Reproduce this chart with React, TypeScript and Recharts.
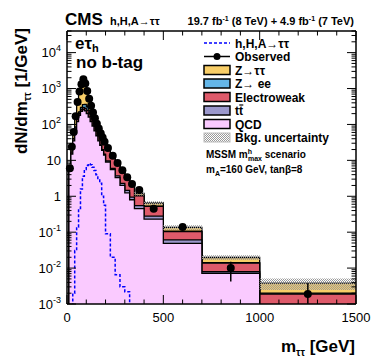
import { Area, ComposedChart, ErrorBar, Line, Scatter, XAxis, YAxis } from "recharts";

const FONT = "'Liberation Sans', Arial, Helvetica, sans-serif";

// variable binning of the m_tautau histogram (GeV)
const binEdges = [
  10, 20, 30, 40, 50, 60, 70, 80, 90, 100, 110, 120, 130, 140, 150, 160, 170, 180, 190, 200,
  225, 250, 275, 300, 325, 350, 400, 500, 700, 1000, 1500,
];

// backgrounds, dN/dm per bin
const qcd = [5, 15, 35, 70, 120, 180, 230, 260, 240, 200, 160, 120, 90, 66, 48, 35, 26, 19, 14, 9, 5.5, 3.3, 2.0, 1.25, 0.8, 0.45, 0.23, 0.049, 0.0071, 0.0002];
const ttbar = [0, 0, 0, 0.1, 0.2, 0.3, 0.4, 0.5, 0.6, 0.7, 0.8, 0.9, 1, 1, 1, 1, 1, 0.9, 0.8, 0.7, 0.5, 0.4, 0.3, 0.2, 0.15, 0.1, 0.05, 0.012, 0.0008, 0.0002];
const ewk = [0.5, 2, 5, 10, 18, 25, 32, 38, 42, 45, 45, 44, 41, 37, 32, 27, 22, 18, 14, 10, 6.2, 3.9, 2.5, 1.6, 1.05, 0.48, 0.24, 0.042, 0.0058, 0.0015];
const zee = [0, 0, 0.5, 5, 10, 20, 35, 60, 80, 70, 40, 20, 10, 5, 3, 2, 1.5, 1, 0.8, 0.5, 0.3, 0.2, 0.1, 0.06, 0.04, 0.02, 0.01, 0.003, 0.0005, 0.0001];
const ztt = [1.5, 6, 20, 80, 260, 600, 1000, 1350, 1050, 560, 280, 140, 70, 35, 18, 10, 6, 3.5, 2.2, 1.3, 0.8, 0.5, 0.3, 0.2, 0.14, 0.15, 0.12, 0.03, 0.0055, 0.0018];
const bkgRelErr = [0.2, 0.15, 0.12, 0.1, 0.08, 0.08, 0.08, 0.08, 0.08, 0.08, 0.08, 0.08, 0.08, 0.08, 0.08, 0.09, 0.09, 0.09, 0.1, 0.1, 0.1, 0.1, 0.11, 0.11, 0.12, 0.12, 0.12, 0.15, 0.15, 0.35];

// signal h,H,A -> tautau (mA=160, tanb=8)
const signal = [0.0001, 0.0006, 0.002, 0.031, 0.14, 0.46, 1.6, 3.6, 5.6, 7.2, 8.0, 7.6, 6.4, 5.2, 4.0, 3.0, 2.3, 1.0, 0.56, 0.09, 0.02, 0.0065, 0.003, 0.0022, 0.0008, 0.0003, 0.0001, 0.00005, 0.00001, 0.00001];

// data
const observed = [6, 24, 62, 170, 420, 830, 1320, 1800, 1380, 860, 520, 330, 215, 148, 104, 77, 57, 43, 33, 22, 13.5, 8.5, 5.3, 3.4, 2.2, 1.5, 0.45, 0.14, 0.01, 0.0019];
const obsErrLow = [0.77, 1.55, 2.5, 4.1, 6.5, 9.1, 11.5, 13.4, 11.7, 9.3, 7.2, 5.7, 4.6, 3.8, 3.2, 2.8, 2.4, 2.1, 1.8, 0.94, 0.73, 0.58, 0.46, 0.37, 0.3, 0.17, 0.067, 0.026, 0.0058, 0.00089];
const obsErrHigh = [0.77, 1.55, 2.5, 4.1, 6.5, 9.1, 11.5, 13.4, 11.7, 9.3, 7.2, 5.7, 4.6, 3.8, 3.2, 2.8, 2.4, 2.1, 1.8, 0.94, 0.73, 0.58, 0.46, 0.37, 0.3, 0.17, 0.067, 0.026, 0.005, 0.0019];

const xTicks = [0, 100, 200, 300, 400, 500, 600, 700, 800, 900, 1000, 1100, 1200, 1300, 1400, 1500];
const yMajor = [0.001, 0.01, 0.1, 1, 10, 100, 1000, 10000];
const yLabels: [string, string][] = [["10", "-3"], ["10", "-2"], ["10", "-1"], ["1", ""], ["10", ""], ["10", "2"], ["10", "3"], ["10", "4"]];
const yTicks = yMajor.flatMap((d) => [1, 2, 3, 4, 5, 6, 7, 8, 9].map((k) => k * d)).filter((v) => v <= 40000);

const TINY = 1e-7;

const rows = [
  { m: binEdges[0], qcdTop: TINY, ttTop: TINY, ewkTop: TINY, zeeTop: TINY, total: TINY, band: [TINY, TINY], sig: TINY },
  ...binEdges.map((edge, i) => {
    const k = Math.min(i, qcd.length - 1);
    const s1 = qcd[k];
    const s2 = s1 + ttbar[k];
    const s3 = s2 + ewk[k];
    const s4 = s3 + zee[k];
    const s5 = s4 + ztt[k];
    return {
      m: edge,
      qcdTop: s1,
      ttTop: s2,
      ewkTop: s3,
      zeeTop: s4,
      total: s5,
      band: [s5 * (1 - bkgRelErr[k]), s5 * (1 + bkgRelErr[k])],
      sig: signal[k],
    };
  }),
];

const points = observed.map((v, i) => ({
  m: (binEdges[i] + binEdges[i + 1]) / 2,
  obs: v,
  err: [obsErrLow[i], obsErrHigh[i]],
}));

function LeftTick(props: any) {
  const { x, y, payload } = props;
  const idx = yMajor.indexOf(payload.value);
  const major = idx >= 0;
  return (
    <g>
      <line x1={x} x2={x + (major ? 9 : 4.5)} y1={y} y2={y} stroke="#000" strokeWidth={1} />
      {major && (
        <text x={x - 6} y={y + 4.5} textAnchor="end" fontSize={13} fontFamily={FONT} fill="#000">
          <tspan>{yLabels[idx][0]}</tspan>
          {yLabels[idx][1] && (
            <tspan dy={-6} fontSize={9}>
              {yLabels[idx][1]}
            </tspan>
          )}
        </text>
      )}
    </g>
  );
}

function RightTick(props: any) {
  const { x, y, payload } = props;
  const major = yMajor.indexOf(payload.value) >= 0;
  return <line x1={x} x2={x - (major ? 9 : 4.5)} y1={y} y2={y} stroke="#000" strokeWidth={1} />;
}

function BottomTick(props: any) {
  const { x, y, payload } = props;
  const major = payload.value % 500 === 0;
  return (
    <g>
      <line x1={x} x2={x} y1={y} y2={y - (major ? 9 : 4.5)} stroke="#000" strokeWidth={1} />
      {major && (
        <text x={x} y={y + 18} textAnchor="middle" fontSize={13} fontFamily={FONT} fill="#000">
          {payload.value}
        </text>
      )}
    </g>
  );
}

function TopTick(props: any) {
  const { x, y, payload } = props;
  const major = payload.value % 500 === 0;
  return <line x1={x} x2={x} y1={y} y2={y + (major ? 9 : 4.5)} stroke="#000" strokeWidth={1} />;
}

const legendRows = [
  { label: "h,H,A→ττ", kind: "dash", color: "#0000ff" },
  { label: "Observed", kind: "obs", color: "#000" },
  { label: "Z→ττ", kind: "box", color: "#F8CE68" },
  { label: "Z→ ee", kind: "box", color: "#64B6E8" },
  { label: "Electroweak", kind: "box", color: "#DE5A6A" },
  { label: "tt", kind: "box", color: "#9B98CC" },
  { label: "QCD", kind: "box", color: "#FACAFF" },
  { label: "Bkg. uncertainty", kind: "hatch", color: "#bbb" },
];

export default function App() {
  return (
    <div style={{ position: "absolute", left: 0, top: 0, width: 374, height: 359, background: "#fff", fontFamily: FONT }}>
      <svg width={0} height={0} style={{ position: "absolute" }}>
        <defs>
          <pattern id="hatch" width="2" height="2" patternUnits="userSpaceOnUse">
            <rect x="0" y="0" width="1" height="1" fill="#999" />
            <rect x="1" y="1" width="1" height="1" fill="#999" />
          </pattern>
        </defs>
      </svg>
      <ComposedChart
        width={374}
        height={359}
        data={rows}
        margin={{ top: 30, right: 17, bottom: 54, left: 66 }}
      >
        <XAxis
          xAxisId="b"
          dataKey="m"
          type="number"
          domain={[0, 1500]}
          ticks={xTicks}
          interval={0}
          height={1}
          tickSize={0}
          tickMargin={0}
          tickLine={false}
          tick={<BottomTick />}
          axisLine={{ stroke: "#000", strokeWidth: 1.5 }}
        />
        <XAxis
          xAxisId="t"
          orientation="top"
          dataKey="m"
          type="number"
          domain={[0, 1500]}
          ticks={xTicks}
          interval={0}
          height={1}
          tickSize={0}
          tickMargin={0}
          tickLine={false}
          tick={<TopTick />}
          axisLine={{ stroke: "#000", strokeWidth: 1.5 }}
        />
        <YAxis
          yAxisId="l"
          type="number"
          scale="log"
          domain={[0.001, 40000]}
          allowDataOverflow
          ticks={yTicks}
          interval={0}
          width={1}
          tickSize={0}
          tickMargin={0}
          tickLine={false}
          tick={<LeftTick />}
          axisLine={{ stroke: "#000", strokeWidth: 1.5 }}
        />
        <YAxis
          yAxisId="r"
          orientation="right"
          type="number"
          scale="log"
          domain={[0.001, 40000]}
          allowDataOverflow
          ticks={yTicks}
          interval={0}
          width={1}
          tickSize={0}
          tickMargin={0}
          tickLine={false}
          tick={<RightTick />}
          axisLine={{ stroke: "#000", strokeWidth: 1.5 }}
        />
        <Area xAxisId="b" yAxisId="l" type="stepAfter" dataKey="total" baseValue={0.001} fill="#F8CE68" fillOpacity={1} stroke="#000" strokeWidth={1.3} isAnimationActive={false} />
        <Area xAxisId="b" yAxisId="l" type="stepAfter" dataKey="zeeTop" baseValue={0.001} fill="#64B6E8" fillOpacity={1} stroke="#000" strokeWidth={1.3} isAnimationActive={false} />
        <Area xAxisId="b" yAxisId="l" type="stepAfter" dataKey="ewkTop" baseValue={0.001} fill="#DE5A6A" fillOpacity={1} stroke="#000" strokeWidth={1.3} isAnimationActive={false} />
        <Area xAxisId="b" yAxisId="l" type="stepAfter" dataKey="ttTop" baseValue={0.001} fill="#9B98CC" fillOpacity={1} stroke="#000" strokeWidth={1.3} isAnimationActive={false} />
        <Area xAxisId="b" yAxisId="l" type="stepAfter" dataKey="qcdTop" baseValue={0.001} fill="#FACAFF" fillOpacity={1} stroke="#000" strokeWidth={1.3} isAnimationActive={false} />
        <Area xAxisId="b" yAxisId="l" type="stepAfter" dataKey="band" fill="url(#hatch)" fillOpacity={1} stroke="none" isAnimationActive={false} />
        <Line xAxisId="b" yAxisId="l" type="stepAfter" dataKey="sig" stroke="#0000ff" strokeWidth={1.5} strokeDasharray="3 2" dot={false} isAnimationActive={false} />
        <Scatter
          xAxisId="b"
          yAxisId="l"
          data={points}
          dataKey="obs"
          fill="#000"
          isAnimationActive={false}
          shape={(p: any) => <circle cx={p.cx} cy={p.cy} r={4} fill="#000" />}
        >
          <ErrorBar dataKey="err" direction="y" width={0} stroke="#000" strokeWidth={1.5} />
        </Scatter>
      </ComposedChart>

      <svg width={374} height={359} style={{ position: "absolute", left: 0, top: 0, pointerEvents: "none" }} fontFamily={FONT}>
        <defs>
          <pattern id="hatchLeg" width="2" height="2" patternUnits="userSpaceOnUse">
            <rect x="0" y="0" width="1" height="1" fill="#999" />
            <rect x="1" y="1" width="1" height="1" fill="#999" />
          </pattern>
        </defs>
        <text x={65} y={25} fontSize={17} fontWeight="bold">CMS</text>
        <text x={110} y={25} fontSize={11} fontWeight="bold">h,H,A→ττ</text>
        <text x={354} y={25} fontSize={11} fontWeight="bold" textAnchor="end">
          19.7 fb<tspan dy={-4} fontSize={7}>-1</tspan>
          <tspan dy={4}> (8 TeV) + 4.9 fb</tspan>
          <tspan dy={-4} fontSize={7}>-1</tspan>
          <tspan dy={4}> (7 TeV)</tspan>
        </text>

        <text x={75} y={49} fontSize={17} fontWeight="bold">
          eτ<tspan dy={3} fontSize={11}>h</tspan>
        </text>
        <text x={76} y={68} fontSize={17} fontWeight="bold">no b-tag</text>

        <text x={27} y={28} fontSize={17} fontWeight="bold" textAnchor="end" transform="rotate(-90 27 28)">
          dN/dm<tspan dy={4} fontSize={10}>ττ</tspan>
          <tspan dy={-4}> [1/GeV]</tspan>
        </text>
        <text x={355} y={352} fontSize={17} fontWeight="bold" textAnchor="end">
          m<tspan dy={4} fontSize={10}>ττ</tspan>
          <tspan dy={-4}> [GeV]</tspan>
        </text>

        {legendRows.map((r, i) => {
          const cy = 43 + i * 13.5;
          return (
            <g key={r.label}>
              {r.kind === "dash" && <line x1={204} x2={230} y1={cy} y2={cy} stroke={r.color} strokeWidth={1.5} strokeDasharray="3 2" />}
              {r.kind === "obs" && (
                <g>
                  <line x1={204} x2={230} y1={cy} y2={cy} stroke="#000" strokeWidth={1.5} />
                  <circle cx={217} cy={cy} r={3.5} fill="#000" />
                </g>
              )}
              {r.kind === "box" && <rect x={204} y={cy - 4.5} width={26} height={9} fill={r.color} stroke="#000" strokeWidth={1.5} />}
              {r.kind === "hatch" && <rect x={204} y={cy - 4.5} width={26} height={9} fill="url(#hatchLeg)" stroke="#bbb" strokeWidth={1} />}
              <text x={235} y={cy + 4.5} fontSize={12} fontWeight="bold">
                {r.label}
              </text>
              {r.label === "tt" && <line x1={239.3} x2={243.3} y1={cy - 5.5} y2={cy - 5.5} stroke="#000" strokeWidth={1.2} />}
            </g>
          );
        })}

        <text x={206} y={158} fontSize={10} fontWeight="bold">
          MSSM m<tspan dy={-4} fontSize={7}>h</tspan>
          <tspan dx={-4} dy={7} fontSize={7}>max</tspan>
          <tspan dy={-3}> scenario</tspan>
        </text>
        <text x={206} y={173} fontSize={10} fontWeight="bold">
          m<tspan dy={3} fontSize={7}>A</tspan>
          <tspan dy={-3}>=160 GeV, tanβ=8</tspan>
        </text>
      </svg>
    </div>
  );
}
